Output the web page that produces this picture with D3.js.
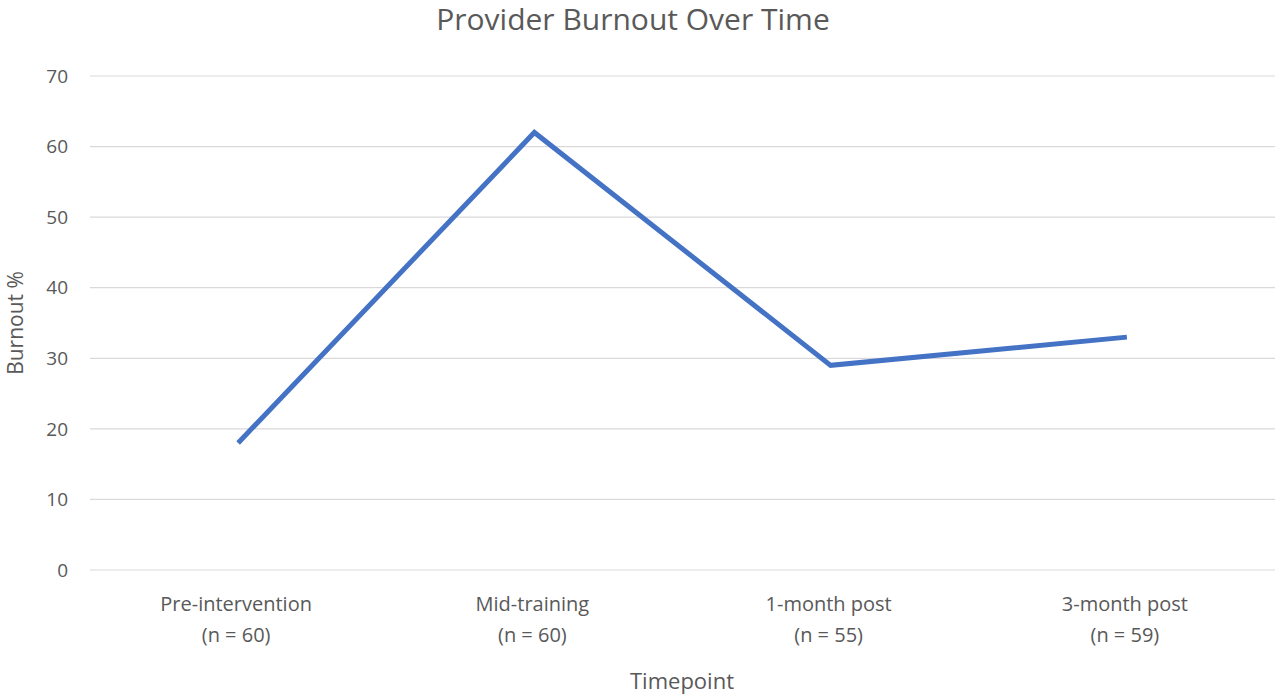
<!DOCTYPE html>
<html><head><meta charset="utf-8">
<script src="https://cdn.jsdelivr.net/npm/d3@7"></script>
<style>body{margin:0;background:#fff}svg{font-family:"Open Sans","Liberation Sans",sans-serif}</style>
</head><body><svg id="c" width="1280" height="696"></svg>
<script>
const categories = ["Pre-intervention","Mid-training","1-month post","3-month post"];
const sampleSizes = ["(n = 60)","(n = 60)","(n = 55)","(n = 59)"];
const burnout = [18, 62, 29, 33];
const yTicks = [0,10,20,30,40,50,60,70];

const svg = d3.select("#c");
const x = d3.scaleBand().domain(categories).range([90,1275]);
const y = d3.scaleLinear().domain([0,70]).range([570,76]);
const grey = "#595959";

svg.append("g").selectAll("line").data(yTicks).join("line")
  .attr("x1",90).attr("x2",1275).attr("y1",d=>y(d)).attr("y2",d=>y(d))
  .attr("stroke","#d9d9d9").attr("stroke-width",1.2);
svg.append("g").selectAll("text").data(yTicks).join("text")
  .attr("x",68).attr("y",d=>y(d)).attr("dy","0.35em").attr("text-anchor","end")
  .attr("font-size",19).attr("fill",grey).text(d=>d);

const xl = svg.append("g").selectAll("text").data(categories).join("text")
  .attr("text-anchor","middle").attr("font-size",20).attr("fill",grey);
xl.append("tspan").attr("y",611).attr("x",d=>x(d)+x.bandwidth()/2-2).text(d=>d);
xl.append("tspan").attr("y",642).attr("x",d=>x(d)+x.bandwidth()/2-2).text((d,i)=>sampleSizes[i]);

svg.append("path").datum(burnout)
  .attr("d", d3.line().x((d,i)=>x(categories[i])+x.bandwidth()/2).y(d=>y(d)))
  .attr("fill","none").attr("stroke","#4472C4").attr("stroke-width",5).attr("stroke-linejoin","miter");

svg.append("text").attr("x",633).attr("y",30).attr("text-anchor","middle")
  .attr("font-size",30).attr("fill",grey).text("Provider Burnout Over Time");
svg.append("text").attr("x",682).attr("y",689).attr("text-anchor","middle")
  .attr("font-size",22).attr("fill",grey).text("Timepoint");
svg.append("text").attr("transform","translate(23,323) rotate(-90)").attr("text-anchor","middle")
  .attr("font-size",21).attr("fill",grey).text("Burnout %");
</script></body></html>
